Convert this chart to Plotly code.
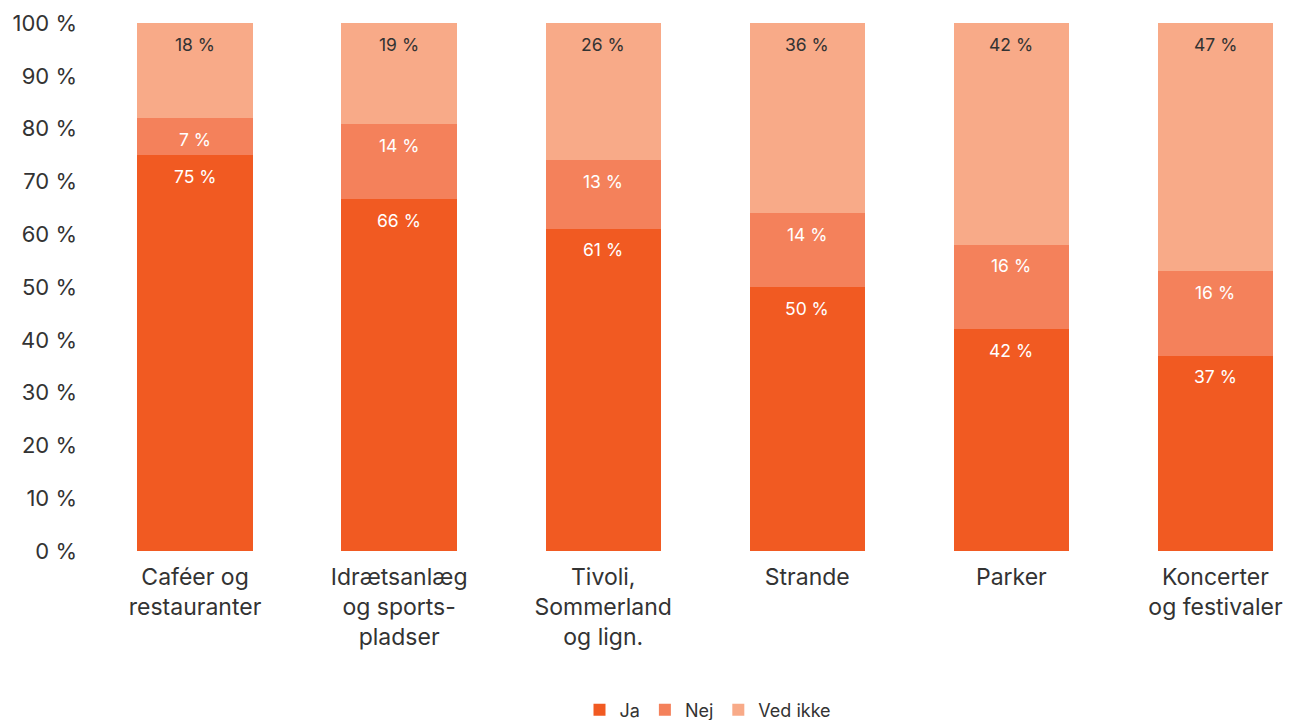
import plotly.graph_objects as go

categories = ["Caféer og<br>restauranter", "Idrætsanlæg<br>og sports-<br>pladser", "Tivoli,<br>Sommerland<br>og lign.", "Strande", "Parker", "Koncerter<br>og festivaler"]
ja = [75, 66, 61, 50, 42, 37]
nej = [7, 14, 13, 14, 16, 16]
ved_ikke = [18, 19, 26, 36, 42, 47]
series_names = ["Ja", "Nej", "Ved ikke"]
colors = ["#F15A22", "#F4815B", "#F8AA88"]
text_colors = ["white", "white", "#333333"]
y_ticks = list(range(0, 101, 10))
y_ticktext = [f"{v} %" for v in y_ticks]

FONT = "Inter, Lato, sans-serif"
fig = go.Figure()
series = [ja, nej, ved_ikke]
x_idx = list(range(len(categories)))
for name, vals, col in zip(series_names, series, colors):
    fig.add_trace(go.Bar(x=x_idx, y=vals, name=name, marker=dict(color=col, line=dict(width=0)),
                         width=0.565, hoverinfo="skip"))

totals = [sum(s[i] for s in series) for i in x_idx]
annotations = []
cum = [0] * len(categories)
for vals, tc in zip(series, text_colors):
    for i, v in enumerate(vals):
        cum[i] += v
        annotations.append(dict(x=i, y=cum[i] * 100 / totals[i], xref="x", yref="y", text=f"{v} %",
                                showarrow=False, yshift=-21, yanchor="middle",
                                font=dict(family=FONT, size=17.5, color=tc)))

fig.update_layout(
    barmode="stack", barnorm="percent",
    width=1285, height=712,
    margin=dict(l=85, r=0, t=15, b=169, autoexpand=False),
    plot_bgcolor="white", paper_bgcolor="white",
    font=dict(family=FONT, color="#333333"),
    annotations=annotations,
    xaxis=dict(tickmode="array", tickvals=x_idx, ticktext=categories, range=[-0.5, 5.38],
               showgrid=False, zeroline=False, showline=False, ticks="", ticklabelstandoff=10,
               automargin=False, tickfont=dict(family=FONT, size=23, color="#333333")),
    yaxis=dict(range=[0, 100], tickmode="array", tickvals=y_ticks, ticktext=y_ticktext,
               showgrid=False, zeroline=False, showline=False, ticks="", ticklabelstandoff=15,
               automargin=False, tickfont=dict(family=FONT, size=22, color="#333333")),
    legend=dict(orientation="h", x=0.5125, xanchor="center", y=-0.301, yanchor="middle",
                font=dict(family=FONT, size=18, color="#333333"), traceorder="normal"),
    showlegend=True,
)
fig.write_html("out.html")
